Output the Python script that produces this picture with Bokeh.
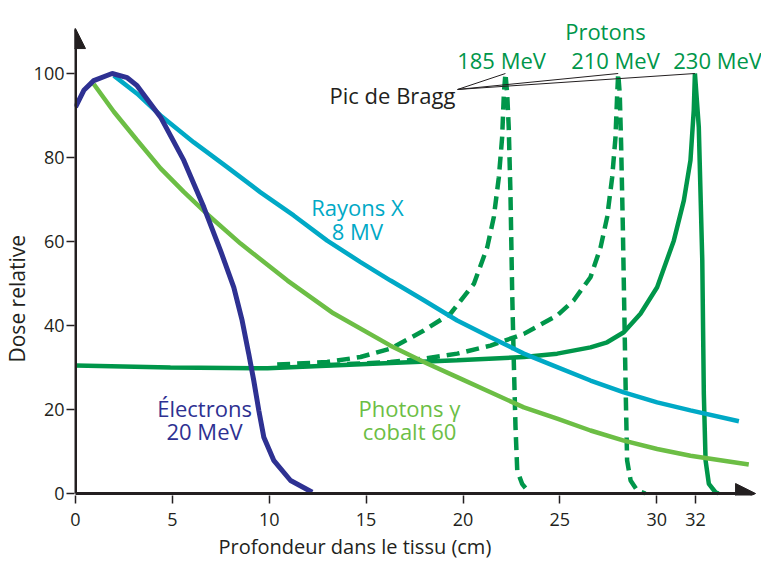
import numpy as np
from bokeh.plotting import figure
from bokeh.models import Range1d, FixedTicker, Title, Arrow, NormalHead
from bokeh.core.properties import value
from bokeh.embed import file_html
from bokeh.resources import INLINE

FONT = "Open Sans"

# ---------------- data ----------------
electrons_x = [0.0, 0.43, 0.94, 1.89, 2.67, 3.18, 4.39, 5.59, 6.62, 7.48, 8.17, 8.60, 8.94, 9.20, 9.46, 9.72, 10.23, 11.10, 12.22]
electrons_y = [92.0, 96.0, 98.3, 100.0, 99.0, 97.1, 89.6, 79.3, 68.2, 57.9, 49.1, 41.2, 33.3, 26.9, 19.8, 13.4, 7.9, 3.1, 0.3]

xray_x = [1.98, 3.18, 4.39, 6.11, 7.83, 9.55, 11.26, 12.99, 14.71, 16.26, 17.98, 19.70, 21.42, 23.14, 24.86, 26.58, 28.30, 30.02, 31.74, 34.24]
xray_y = [99.5, 95.2, 90.0, 83.6, 77.7, 71.7, 66.2, 60.2, 55.1, 50.7, 46.0, 41.2, 37.2, 33.3, 30.1, 26.9, 24.1, 21.7, 19.8, 17.2]

gamma_x = [0.94, 1.98, 3.18, 4.39, 5.59, 6.80, 8.52, 10.94, 13.31, 16.26, 17.98, 19.70, 21.42, 23.14, 24.86, 26.58, 28.30, 30.02, 31.74, 34.75]
gamma_y = [97.5, 90.9, 84.1, 77.4, 71.8, 66.5, 59.5, 50.7, 42.9, 35.2, 31.3, 27.7, 24.1, 20.5, 17.8, 15.0, 12.6, 10.6, 9.0, 6.9]

p230_x = [0.0, 4.90, 9.91, 16.26, 19.70, 23.14, 24.86, 26.58, 27.44, 28.30, 29.16, 30.02, 30.88, 31.40, 31.74, 31.91, 31.97,
          32.17, 32.35, 32.43, 32.52, 32.69, 33.03, 33.19]
p230_y = [30.5, 30.0, 29.8, 31.1, 31.7, 32.5, 33.3, 34.8, 36.0, 38.4, 42.8, 49.1, 60.2, 69.8, 79.3, 91.2, 100.0,
          87.2, 55.5, 23.7, 7.9, 2.3, 0.3, 0.0]

p185_x = [10.41, 12.99, 14.71, 16.26, 17.98, 19.35, 20.56, 21.25, 21.59, 21.85, 22.02, 22.11, 22.19,
          22.28, 22.36, 22.45, 22.54, 22.62, 22.71, 22.80, 23.05, 23.40]
p185_y = [30.7, 31.3, 32.5, 34.5, 38.8, 42.8, 49.9, 58.6, 65.8, 75.3, 84.8, 95.2, 100.0,
          95.2, 87.2, 71.4, 47.5, 31.7, 15.8, 5.5, 2.3, 0.3]

p210_x = [12.99, 16.26, 17.98, 19.70, 21.42, 23.14, 24.86, 25.72, 26.58, 27.10, 27.44, 27.70, 27.87, 27.96, 28.01,
          28.09, 28.16, 28.25, 28.34, 28.40, 28.47, 28.65, 28.99, 29.42]
p210_y = [30.6, 31.3, 32.1, 33.3, 35.2, 38.0, 42.4, 46.0, 51.5, 58.6, 65.8, 75.3, 84.8, 95.2, 100.0,
          95.2, 83.3, 63.4, 39.6, 23.7, 7.9, 3.1, 0.7, 0.0]

x_ticks = [0, 5, 10, 15, 20, 25, 30, 32]
y_ticks = [0, 20, 40, 60, 80, 100]

proton_labels = ["185 MeV", "210 MeV", "230 MeV"]

# ---------------- colours ----------------
C_ELEC = "#2e3192"
C_XRAY = "#00a9c6"
C_GAMMA = "#6cbe45"
C_PROT = "#00964a"
C_INK = "#231f20"

# ---------------- figure ----------------
W, H = 761, 561
PX_PER_CM = 19.375
PX_PER_UNIT = 4.2
left_border, bottom_border = 74, 66
x_start = -1.0 / PX_PER_CM
x_end = x_start + (W - left_border) / PX_PER_CM
y_start = -2.0 / PX_PER_UNIT
y_end = y_start + (H - bottom_border) / PX_PER_UNIT

p = figure(width=W, height=H, output_backend="svg", toolbar_location=None,
           x_range=Range1d(x_start, x_end), y_range=Range1d(y_start, y_end),
           min_border_left=left_border, min_border_right=0, min_border_top=0,
           min_border_bottom=bottom_border)
p.outline_line_color = None
p.xgrid.visible = False
p.ygrid.visible = False
p.background_fill_color = "white"
p.border_fill_color = "white"

for ax, ticks in ((p.xaxis[0], x_ticks), (p.yaxis[0], y_ticks)):
    ax.ticker = FixedTicker(ticks=ticks)
    ax.axis_line_color = None
    ax.major_tick_out = 8
    ax.major_tick_in = 0
    ax.minor_tick_line_color = None
    ax.major_tick_line_color = C_INK
    ax.major_tick_line_width = 1.5
    ax.major_label_text_font = FONT
    ax.major_label_text_font_size = "18px"
    ax.major_label_text_color = C_INK

p.xaxis[0].major_label_standoff = 9
p.yaxis[0].major_label_standoff = 2

# axis titles as side titles (placed outside the frame)
p.add_layout(Title(text="Dose relative", align="left", offset=133, standoff=0,
                   text_font=FONT, text_font_size="21px", text_font_style="normal",
                   text_color=C_INK), "left")
p.add_layout(Title(text="Profondeur dans le tissu (cm)", align="left", offset=144, standoff=4,
                   text_font=FONT, text_font_size="20px", text_font_style="normal",
                   text_color=C_INK), "below")

# axis lines with arrow heads
p.add_layout(Arrow(x_start=0, y_start=0, x_end=0, y_end=110.7, line_width=3, line_color=C_INK,
                   end=NormalHead(size=20, fill_color=C_INK, line_color=C_INK, line_width=1)))
p.add_layout(Arrow(x_start=0, y_start=0, x_end=35.1, y_end=0, line_width=3, line_color=C_INK,
                   end=NormalHead(size=20, fill_color=C_INK, line_color=C_INK, line_width=1)))

# curves
LW = 4.5
p.line(p230_x, p230_y, color=C_PROT, line_width=LW)
p.line(p185_x, p185_y, color=C_PROT, line_width=LW, line_dash="13 7")
p.line(p210_x, p210_y, color=C_PROT, line_width=LW, line_dash="13 7")
p.line(gamma_x, gamma_y, color=C_GAMMA, line_width=LW)
p.line(xray_x, xray_y, color=C_XRAY, line_width=LW)
p.line(electrons_x, electrons_y, color=C_ELEC, line_width=5)

# Bragg peak leader lines
peaks_x, peaks_y = [], []
for xs, ys in ((p185_x, p185_y), (p210_x, p210_y), (p230_x, p230_y)):
    i = int(np.argmax(ys))
    peaks_x.append(xs[i])
    peaks_y.append(ys[i])
p.segment(x0=[19.72] * 3, y0=[96.2] * 3, x1=peaks_x, y1=peaks_y, line_color=C_INK, line_width=1)

def txt(xs, ys, texts, color, size="22px", align="center"):
    p.text(x=xs, y=ys, text=texts, text_color=color, text_font=value(FONT),
           text_font_size=size, text_align=align, text_baseline="alphabetic")

txt([19.61], [94.8], ["Pic de Bragg"], C_INK, align="right")
txt([27.35], [110.2], ["Protons"], C_PROT)
txt([21.99, 27.87, 33.14], [103.3] * 3, proton_labels, C_PROT)
txt([14.55, 14.55], [68.1, 62.4], ["Rayons X", "8 MV"], C_XRAY)
txt([6.66, 6.66], [20.4, 14.8], ["Électrons", "20 MeV"], C_ELEC)
txt([17.24, 17.24], [20.4, 14.8], ["Photons γ", "cobalt 60"], C_GAMMA)

open("out.html", "w").write(file_html(p, INLINE))
